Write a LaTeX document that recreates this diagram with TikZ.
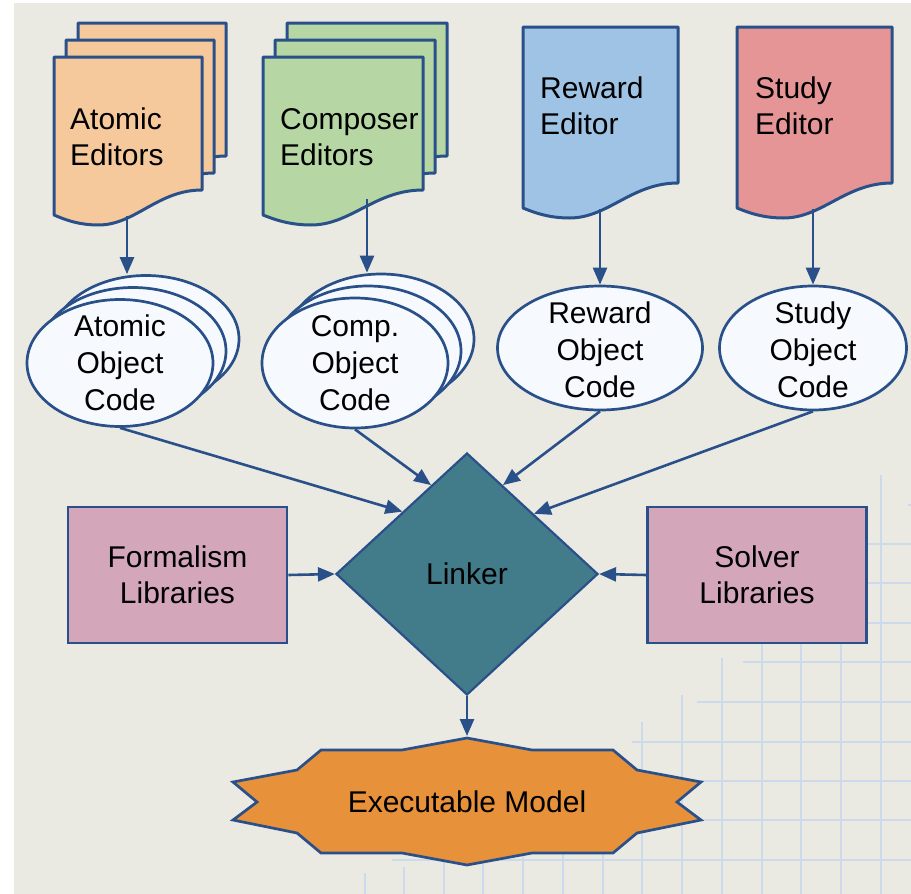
\documentclass[tikz,border=0pt]{standalone}
\usepackage{fontspec}
\setmainfont{Liberation Sans}
\usetikzlibrary{arrows.meta,shapes.geometric,calc}
\definecolor{bgc}{HTML}{EAEAE2}
\definecolor{strk}{HTML}{2A508A}
\definecolor{peach}{HTML}{F5C99C}
\definecolor{sage}{HTML}{B6D7A4}
\definecolor{skyb}{HTML}{9EC3E5}
\definecolor{rosy}{HTML}{E69597}
\definecolor{ovalfill}{HTML}{F6FAFE}
\definecolor{mauve}{HTML}{D3A6B9}
\definecolor{tealc}{HTML}{427B89}
\definecolor{orng}{HTML}{E7913A}
\definecolor{gridc}{HTML}{CCDAEC}
\newcommand\mydoc[5]{%
  \path[docline, fill=#5] (#1,#2) -- ({#1+#3},#2) -- ({#1+#3},{#2+#4})
   .. controls ({#1+0.7*#3},{#2+#4}) and ({#1+0.55*#3},{#2+#4+35}) .. ({#1+0.3*#3},{#2+#4+35})
   .. controls ({#1+0.15*#3},{#2+#4+35}) and ({#1+0.05*#3},{#2+#4+28}) .. (#1,{#2+#4+25}) -- cycle;}
\tikzset{
  docline/.style={draw=strk, line width=3pt, line join=round},
  arr/.style={draw=strk, line width=2.6pt, -{Triangle[length=17pt,width=14pt]}},
  txt/.style={font=\fontsize{30}{37}\selectfont, inner sep=0pt, text=black},
  doctxt/.style={font=\fontsize{30}{36}\selectfont, inner sep=0pt, text=black, align=left, anchor=west},
  oval/.style={ellipse, draw=strk, line width=2.7pt, fill=ovalfill, inner sep=0pt},
  libbox/.style={rectangle, draw=strk, line width=2.7pt, fill=mauve, minimum width=219pt, minimum height=136pt, align=center, inner sep=0pt, font=\fontsize{30}{36}\selectfont, text=black},
  gridln/.style={draw=gridc, line width=1.3pt}
}
\begin{document}
\begin{tikzpicture}[x=1pt,y=-1pt]
\useasboundingbox (0,0) rectangle (911,894);
\fill[white] (0,0) rectangle (911,894);
\fill[bgc] (14,3) rectangle (911,894);
% grid
\foreach \gx/\gy in {881/475,841/510,801/540,762/600,722/658,682/695,642/722,603/750,563/760,523/790,483/830,444/850,404/867,365/873}
  {\draw[gridln] (\gx,\gy) -- (\gx,894);}
\foreach \gy/\gx in {505/908,544/867,583/850,623/820,662/743,702/697,742/632,781/570,820/500,860/392}
  {\draw[gridln] (\gx,\gy) -- (911,\gy);}
% editors
\mydoc{78}{23}{148}{133}{peach}
\mydoc{66}{40}{148}{133}{peach}
\mydoc{54}{57}{148}{133}{peach}
\node[doctxt] (ae) at (70,137) {Atomic\\Editors};
\mydoc{287}{23}{160}{133}{sage}
\mydoc{275}{40}{160}{133}{sage}
\mydoc{263}{57}{160}{133}{sage}
\node[doctxt] (ce) at (280,137) {Composer\\Editors};
\mydoc{523}{27}{155}{156}{skyb}
\node[doctxt] (re) at (540,106) {Reward\\Editor};
\mydoc{737}{27}{155}{156}{rosy}
\node[doctxt] (se) at (755,106) {Study\\Editor};
\coordinate (aeb) at (127,216);
\coordinate (ceb) at (367,199);
\coordinate (reb) at (600,209);
\coordinate (seb) at (813,209);
% object code ellipses
\node[oval, minimum width=186pt, minimum height=127pt] (aoc3) at (146,339) {};
\node[oval, minimum width=186pt, minimum height=127pt] (aoc2) at (133,351) {};
\node[oval, minimum width=186pt, minimum height=127pt] (aoc) at (120,363) {};
\node[txt, align=center] (aoct) at (120,363) {Atomic\\Object\\Code};
\node[oval, minimum width=186pt, minimum height=130pt] (coc3) at (381,339) {};
\node[oval, minimum width=186pt, minimum height=130pt] (coc2) at (368,351) {};
\node[oval, minimum width=186pt, minimum height=130pt] (coc) at (355,363) {};
\node[txt, align=center] (coct) at (355,363) {Comp.\\Object\\Code};
\node[oval, minimum width=205pt, minimum height=124pt] (roc) at (600,348) {};
\node[txt, align=center] (roct) at (600,350) {Reward\\Object\\Code};
\node[oval, minimum width=187pt, minimum height=124pt] (soc) at (813,348) {};
\node[txt, align=center] (soct) at (813,350) {Study\\Object\\Code};
% linker
\node[diamond, draw=strk, line width=2.2pt, fill=tealc, minimum width=262pt, minimum height=242pt, inner sep=0pt, font=\fontsize{30}{36}\selectfont, text=black] (lk) at (467,574) {Linker};
\node[libbox] (fl) at (177.5,575) {Formalism\\Libraries};
\node[libbox] (sl) at (757,575) {Solver\\Libraries};
% executable model
\path[draw=strk, line width=2.7pt, line join=miter, fill=orng]
 (467,738) -- (532,750) -- (613,750) -- (637,770) -- (701,782) -- (677,802) -- (701,820) -- (637,833) -- (613,853) -- (532,853) -- (467,865) -- (402,853) -- (321,853) -- (297,833) -- (233,820) -- (257,802) -- (233,782) -- (297,770) -- (321,750) -- (402,750) -- cycle;
\node[txt] (em) at (467,802) {Executable Model};
\coordinate (emtop) at (467,736);
% connectors
\draw[arr] (aeb) -- (aeb |- aoc3.north);
\draw[arr] (ceb) -- (ceb |- coc3.north);
\draw[arr] (reb) -- (roc.north);
\draw[arr] (seb) -- (soc.north);
\draw[arr] (aoc.south) -- (lk.136);
\draw[arr] (coc.south) -- (lk.112);
\draw[arr] (roc.south) -- (lk.68);
\draw[arr] (soc.south) -- (lk.42);
\draw[arr] (fl.east) -- (lk.west);
\draw[arr] (sl.west) -- (lk.east);
\draw[arr] (lk.south) -- (emtop);
\end{tikzpicture}
\end{document}
